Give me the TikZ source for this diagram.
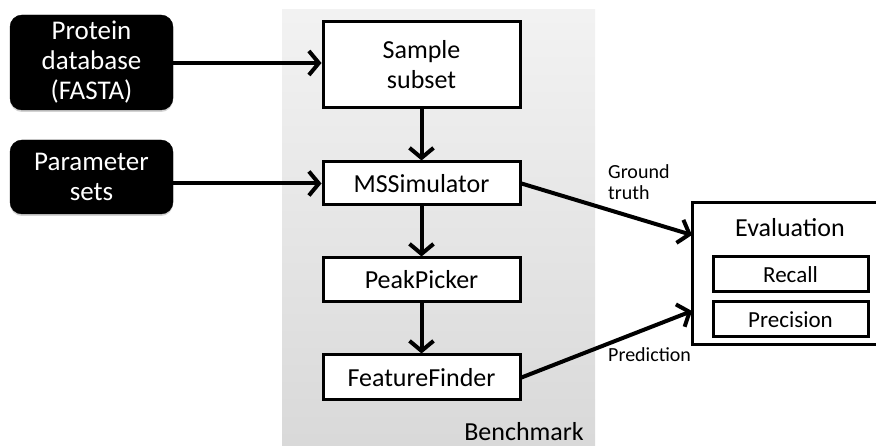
\documentclass[tikz,border=0pt]{standalone}
\usepackage{fontspec}
\setmainfont{Carlito}
\usetikzlibrary{arrows.meta,shadows,calc}
\begin{document}
\begin{tikzpicture}[x=1pt,y=-1pt,
  srcbox/.style={draw=black, fill=black, rounded corners=12pt, text=white,
    align=center, font=\fontsize{27}{30}\selectfont, inner sep=0pt,
    minimum width=163pt,
    drop shadow={opacity=0.35, shadow xshift=0pt, shadow yshift=-2pt}},
  stepbox/.style={draw=black, line width=3pt, fill=white, align=center,
    font=\fontsize{26}{30}\selectfont, inner sep=0pt, minimum width=197pt},
  metricbox/.style={draw=black, line width=3pt, fill=white,
    font=\fontsize{23}{26}\selectfont, inner sep=0pt,
    minimum width=155pt, minimum height=35pt},
  flow/.style={line width=4pt, -{Straight Barb[length=10pt,width=24pt]}},
  lbl/.style={font=\fontsize{20}{21}\selectfont, align=left, inner sep=0pt}
]
\useasboundingbox (0,0) rectangle (876,446);

% benchmark area
\shade[top color=black!5, bottom color=black!15] (282,10) rectangle (595,446);
\node[anchor=east, font=\fontsize{26}{30}\selectfont, inner sep=0pt] (bench) at (584,432) {Benchmark};

% inputs
\node[srcbox, minimum height=95pt] (prot) at (91.5,62.5) {Protein\\database\\(FASTA)};
\node[srcbox, minimum height=74pt] (param) at (91.5,177) {Parameter\\sets};

% pipeline
\node[stepbox, minimum height=86pt] (sample) at (421.5,65) {Sample\\subset};
\node[stepbox, minimum height=43pt] (ms) at (421.5,183.5) {MSSimulator};
\node[stepbox, minimum height=44pt] (peak) at (421.5,280) {PeakPicker};
\node[stepbox, minimum height=45pt] (ff) at (421.5,377.5) {FeatureFinder};

% evaluation
\node[draw=black, line width=3pt, fill=white, minimum width=190pt, minimum height=142pt, inner sep=0pt] (eval) at (787,274) {};
\node[font=\fontsize{26}{30}\selectfont, inner sep=0pt] (evaltitle) at (790,228) {Evaluation};
\node[metricbox] (recall) at (790.5,274.5) {Recall};
\node[metricbox] (prec) at (790.5,319.5) {Precision};
\coordinate (gtin) at (692,235);
\coordinate (prin) at (692,311);

% connectors
\draw[flow] (prot.east |- 0,63) -- (sample.west |- 0,63);
\draw[flow] (param.east |- ms.west) -- (ms.west);
\draw[flow] (sample.south) -- (ms.north);
\draw[flow] (ms.south) -- (peak.north);
\draw[flow] (peak.south) -- (ff.north);
\draw[flow] (ms.east) -- (gtin);
\draw[flow] (ff.east) -- (prin);

% connector labels
\node[lbl, anchor=west] (gtlbl) at (608,182.5) {Ground\\truth};
\node[lbl, anchor=west] (prlbl) at (608,355) {Prediction};
\end{tikzpicture}
\end{document}
